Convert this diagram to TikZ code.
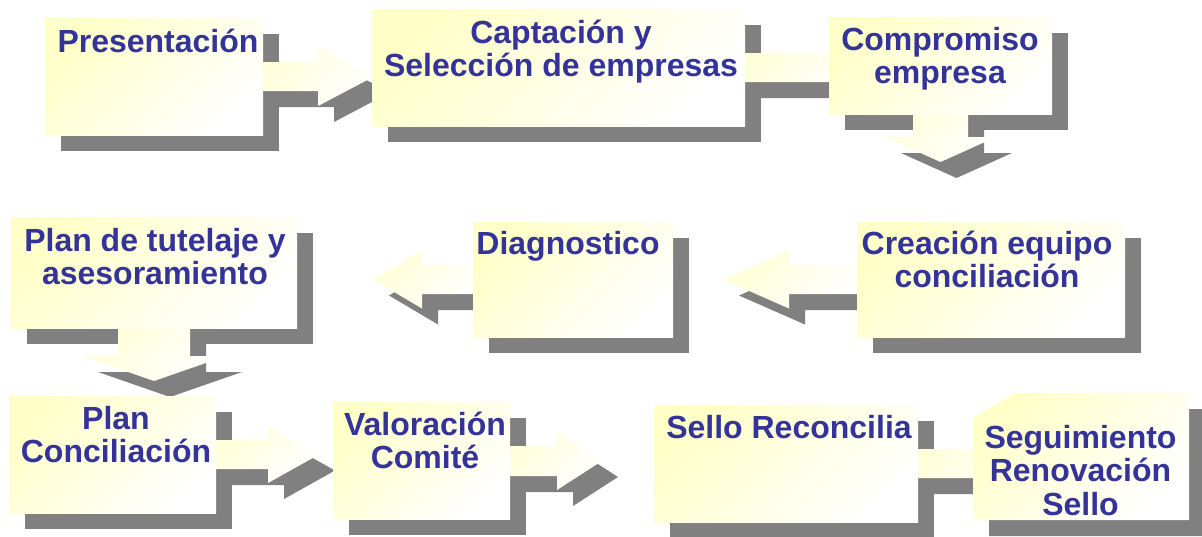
\documentclass[tikz,border=0pt]{standalone}
\usepackage{fontspec}
\setmainfont{Liberation Sans}
\definecolor{txt}{RGB}{51,51,153}
\definecolor{shd}{RGB}{128,128,128}
\definecolor{pale}{RGB}{255,255,200}
\pgfdeclarelayer{bglayer}
\pgfdeclarelayer{shadowlayer}
\pgfdeclarelayer{arrowlayer}
\pgfsetlayers{bglayer,shadowlayer,arrowlayer,main}
\tikzset{
  pane/.style={top color=pale, middle color=pale!12!white, bottom color=white, shading angle=45, draw=none},
  arrowpane/.style={top color=pale!75!white, middle color=white, bottom color=white, shading angle=45, draw=none},
  lbl/.style={text=txt, font=\fontsize{32}{33.5}\selectfont\bfseries, inner sep=0pt, anchor=base},
}
\newcommand\mlines[1]{\begin{tabular}[t]{@{}c@{}}#1\end{tabular}}
% box: name, x1, y1, x2, y2 (pixel coordinates, y downward)
\newcommand\panebox[5]{%
  \begin{pgfonlayer}{shadowlayer}\fill[shd] (#2+16,#3+16) rectangle (#4+16,#5+16);\end{pgfonlayer}
  \node[pane, anchor=north west, inner sep=0pt, outer sep=0pt,
        minimum width=#4pt-#2pt, minimum height=#5pt-#3pt] (#1) at (#2,#3) {};
}
% horizontal block arrow: x0 (tail), x1 (head back), xt (tip), yc, shaft half, head half
\newcommand\harrow[6]{%
  \begin{pgfonlayer}{shadowlayer}\fill[shd, shift={(16,16)}]
    (#1,#4-#5) -- (#2,#4-#5) -- (#2,#4-#6) -- (#3,#4) -- (#2,#4+#6) -- (#2,#4+#5) -- (#1,#4+#5) -- cycle;\end{pgfonlayer}
  \begin{pgfonlayer}{arrowlayer}\path[arrowpane]
    (#1,#4-#5) -- (#2,#4-#5) -- (#2,#4-#6) -- (#3,#4) -- (#2,#4+#6) -- (#2,#4+#5) -- (#1,#4+#5) -- cycle;\end{pgfonlayer}
}
% vertical block arrow: y0 (tail), y1 (head back), yt (tip), xc, shaft half, head half
\newcommand\varrow[6]{%
  \begin{pgfonlayer}{shadowlayer}\fill[shd, shift={(16,16)}]
    (#4-#5,#1) -- (#4-#5,#2) -- (#4-#6,#2) -- (#4,#3) -- (#4+#6,#2) -- (#4+#5,#2) -- (#4+#5,#1) -- cycle;\end{pgfonlayer}
  \begin{pgfonlayer}{arrowlayer}\path[arrowpane]
    (#4-#5,#1) -- (#4-#5,#2) -- (#4-#6,#2) -- (#4,#3) -- (#4+#6,#2) -- (#4+#5,#2) -- (#4+#5,#1) -- cycle;\end{pgfonlayer}
}
\begin{document}
\begin{tikzpicture}[x=1pt,y=-1pt]
\begin{pgfonlayer}{bglayer}
\fill[white] (0,0) rectangle (1202,536);
\end{pgfonlayer}
\useasboundingbox (0,0) rectangle (1202,536);
% boxes
\panebox{pres}{45}{18}{263}{135}
\panebox{capt}{372}{9}{745}{126}
\panebox{comp}{829}{17}{1052}{114}
\panebox{tut}{11}{217}{297}{328}
\panebox{diag}{473}{222}{673}{337}
\panebox{crea}{857}{222}{1125}{337}
\panebox{plan}{9}{396}{216}{513}
\panebox{valo}{333}{402}{510}{519}
\panebox{sello}{654}{405}{918}{522}
% box with cut corner
\begin{pgfonlayer}{shadowlayer}
\fill[shd, shift={(16,16)}] (973,418) -- (1015,393) -- (1189,393) -- (1189,520) -- (973,520) -- cycle;
\end{pgfonlayer}
\path[pane] (973,418) -- (1015,393) -- (1189,393) -- (1189,520) -- (973,520) -- cycle;
\coordinate (segu) at (1081,456);
% block arrows
\harrow{250}{318}{374}{76.5}{14.5}{29.5}
\harrow{735}{829}{870}{67.5}{14.5}{25}
\varrow{100}{137}{162}{940.5}{27.5}{55.5}
\varrow{320}{356}{381}{154}{36}{72}
\harrow{480}{422}{373}{279.5}{14.5}{29}
\harrow{865}{789}{723}{279.5}{14.5}{29}
\harrow{205}{268}{319}{454.5}{14.5}{28.5}
\harrow{500}{557}{602}{461}{15}{29}
\harrow{910}{990}{1030}{463.5}{14.5}{25}
% texts
\node[lbl] (t-pres) at (158,52) {Presentación};
\node[lbl] (t-capt) at (561,43) {\mlines{Captación y\\Selección de empresas}};
\node[lbl] (t-comp) at (940,50) {\mlines{Compromiso\\empresa}};
\node[lbl] (t-tut) at (155,251) {\mlines{Plan de tutelaje y\\asesoramiento}};
\node[lbl] (t-diag) at (568,254) {Diagnostico};
\node[lbl] (t-crea) at (987,254) {\mlines{Creación equipo\\conciliación}};
\node[lbl] (t-plan) at (116,429) {\mlines{Plan\\Conciliación}};
\node[lbl] (t-valo) at (425,435) {\mlines{Valoración\\Comité}};
\node[lbl] (t-sello) at (789,438) {Sello Reconcilia};
\node[lbl] (t-segu) at (1080.5,448) {\mlines{Seguimiento\\Renovación\\Sello}};
\end{tikzpicture}
\end{document}
